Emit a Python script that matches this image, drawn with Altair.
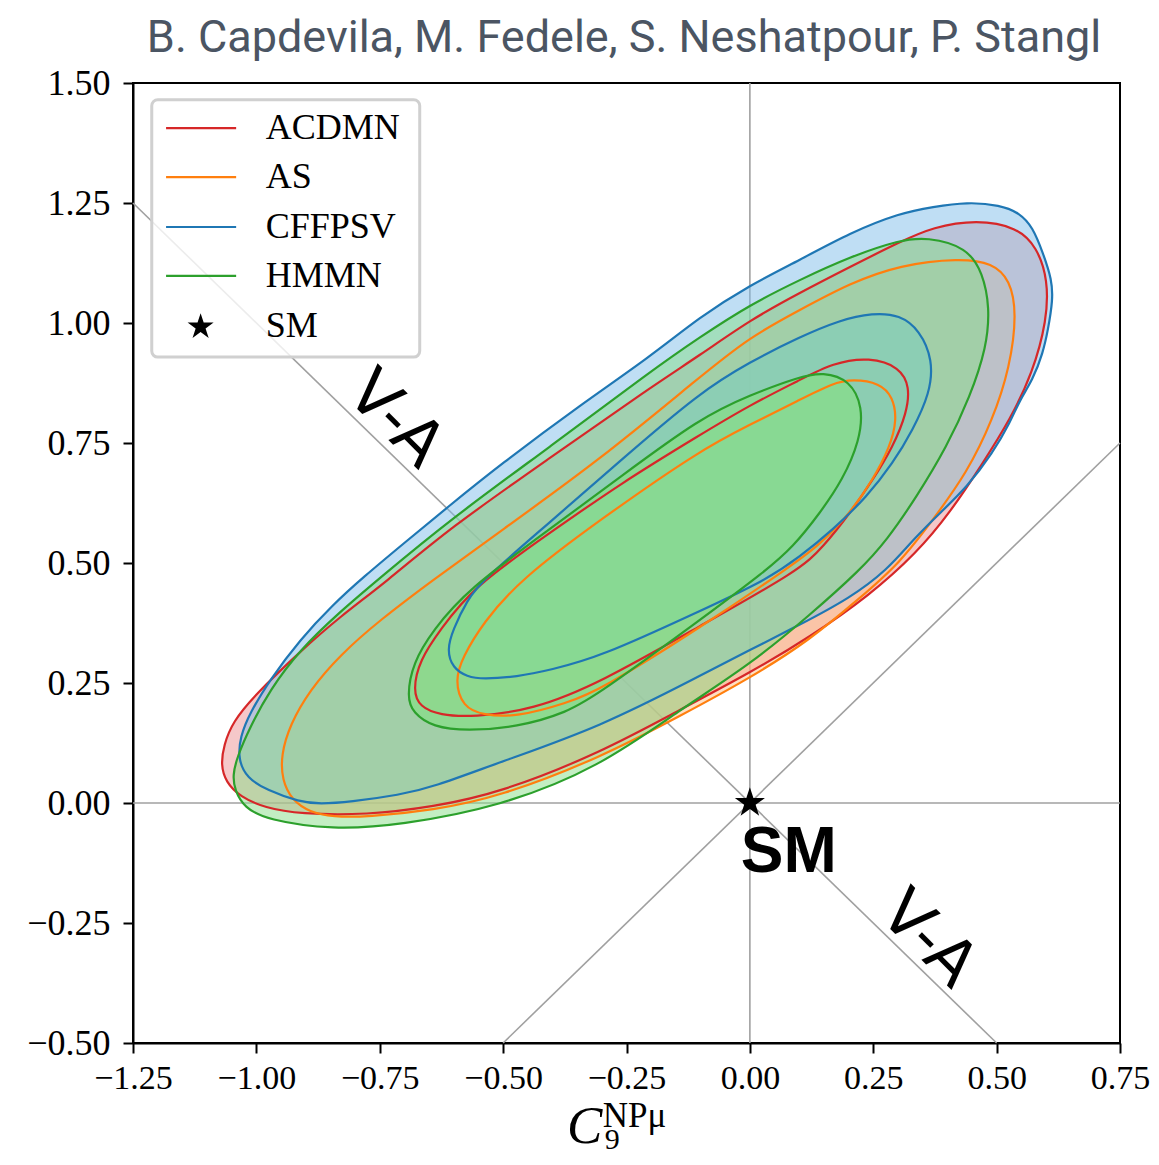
import altair as alt
import pandas as pd

TITLE = "B. Capdevila, M. Fedele, S. Neshatpour, P. Stangl"
MODELS = ["ACDMN", "AS", "CFFPSV", "HMMN"]
LINE_COLORS = ["#d62728", "#ff7f0e", "#1f77b4", "#2ca02c"]
FILL_COLORS = ["#eb9293", "#ffbf86", "#80bee9", "#87de87"]
X_TICKS = [-1.25, -1.0, -0.75, -0.5, -0.25, 0.0, 0.25, 0.5, 0.75]
Y_TICKS = [-0.5, -0.25, 0.0, 0.25, 0.5, 0.75, 1.0, 1.25, 1.5]

# contour points (C9, C10)
ACDMN_OUTER_X = [0.460, 0.541, 0.582, 0.604, 0.602, 0.573, 0.527, 0.472, 0.405, 0.338, 0.243, 0.122, 0.000, -0.142, -0.304, -0.507, -0.642, -0.776, -0.912, -0.983, -1.033, -1.062, -1.072, -1.066, -1.048, -1.003, -0.912, -0.831, -0.740, -0.608, -0.405, -0.203, -0.101, 0.000, 0.101, 0.203, 0.304, 0.371]
ACDMN_OUTER_Y = [1.215, 1.200, 1.158, 1.090, 1.006, 0.896, 0.798, 0.708, 0.604, 0.521, 0.433, 0.346, 0.271, 0.194, 0.104, 0.021, -0.008, -0.025, -0.023, -0.010, 0.013, 0.044, 0.079, 0.121, 0.169, 0.225, 0.315, 0.388, 0.458, 0.573, 0.719, 0.865, 0.933, 1.006, 1.063, 1.117, 1.169, 1.200]
ACDMN_INNER_X = [0.243, 0.304, 0.324, 0.318, 0.290, 0.249, 0.203, 0.148, 0.101, -0.101, -0.304, -0.440, -0.561, -0.628, -0.669, -0.683, -0.669, -0.628, -0.561, -0.405, -0.263, -0.101, 0.000, 0.101, 0.168]
ACDMN_INNER_Y = [0.929, 0.908, 0.867, 0.813, 0.742, 0.673, 0.604, 0.533, 0.485, 0.369, 0.250, 0.194, 0.179, 0.183, 0.200, 0.235, 0.298, 0.360, 0.450, 0.563, 0.665, 0.767, 0.829, 0.881, 0.917]

AS_OUTER_X = [0.425, 0.492, 0.527, 0.541, 0.527, 0.492, 0.440, 0.371, 0.304, 0.223, 0.122, 0.000, -0.142, -0.304, -0.507, -0.642, -0.776, -0.845, -0.892, -0.928, -0.948, -0.950, -0.932, -0.892, -0.831, -0.750, -0.642, -0.507, -0.304, -0.101, 0.000, 0.101, 0.203, 0.304]
AS_OUTER_Y = [1.135, 1.125, 1.090, 1.021, 0.908, 0.798, 0.688, 0.590, 0.500, 0.427, 0.340, 0.260, 0.181, 0.094, 0.013, -0.015, -0.029, -0.029, -0.019, 0.006, 0.048, 0.100, 0.163, 0.235, 0.308, 0.381, 0.465, 0.565, 0.715, 0.888, 0.971, 1.027, 1.083, 1.121]
AS_INNER_X = [0.209, 0.263, 0.290, 0.298, 0.284, 0.249, 0.203, 0.142, 0.081, -0.101, -0.304, -0.371, -0.472, -0.541, -0.582, -0.598, -0.582, -0.541, -0.466, -0.304, -0.101, 0.000, 0.101, 0.168]
AS_INNER_Y = [0.883, 0.875, 0.846, 0.798, 0.742, 0.673, 0.604, 0.538, 0.492, 0.365, 0.235, 0.208, 0.179, 0.183, 0.200, 0.256, 0.304, 0.375, 0.465, 0.590, 0.735, 0.788, 0.840, 0.875]

CFFPSV_OUTER_X = [0.440, 0.507, 0.547, 0.573, 0.594, 0.612, 0.614, 0.604, 0.594, 0.573, 0.547, 0.527, 0.492, 0.440, 0.385, 0.330, 0.278, 0.203, 0.101, 0.000, -0.101, -0.304, -0.507, -0.642, -0.709, -0.811, -0.871, -0.912, -0.979, -1.019, -1.037, -1.033, -1.013, -0.973, -0.912, -0.845, -0.784, -0.700, -0.614, -0.507, -0.344, -0.203, -0.101, 0.000, 0.101, 0.203, 0.304, 0.371]
CFFPSV_OUTER_Y = [1.252, 1.246, 1.229, 1.200, 1.146, 1.090, 1.048, 0.985, 0.938, 0.881, 0.840, 0.792, 0.729, 0.658, 0.604, 0.548, 0.485, 0.427, 0.371, 0.319, 0.265, 0.158, 0.085, 0.033, 0.017, 0.002, -0.002, 0.002, 0.027, 0.052, 0.090, 0.138, 0.188, 0.256, 0.340, 0.413, 0.470, 0.542, 0.615, 0.704, 0.829, 0.929, 1.013, 1.079, 1.131, 1.188, 1.229, 1.242]
CFFPSV_INNER_X = [0.249, 0.304, 0.344, 0.371, 0.365, 0.330, 0.290, 0.237, 0.168, 0.101, 0.034, -0.101, -0.304, -0.405, -0.472, -0.541, -0.573, -0.602, -0.614, -0.602, -0.573, -0.541, -0.405, -0.263, -0.101, 0.000, 0.101, 0.182]
CFFPSV_INNER_Y = [1.021, 1.017, 0.985, 0.923, 0.854, 0.777, 0.708, 0.638, 0.569, 0.513, 0.465, 0.400, 0.304, 0.277, 0.263, 0.258, 0.263, 0.281, 0.319, 0.360, 0.423, 0.465, 0.585, 0.713, 0.856, 0.919, 0.971, 1.006]

HMMN_OUTER_X = [0.359, 0.440, 0.472, 0.486, 0.480, 0.446, 0.399, 0.338, 0.278, 0.223, 0.122, 0.000, -0.142, -0.304, -0.507, -0.709, -0.845, -0.979, -1.024, -1.044, -1.048, -1.039, -1.013, -0.973, -0.912, -0.831, -0.754, -0.608, -0.405, -0.203, -0.101, 0.000, 0.101, 0.203, 0.304]
HMMN_OUTER_Y = [1.179, 1.158, 1.104, 1.033, 0.950, 0.846, 0.742, 0.638, 0.548, 0.485, 0.392, 0.288, 0.194, 0.075, -0.008, -0.046, -0.056, -0.035, -0.010, 0.027, 0.058, 0.096, 0.158, 0.235, 0.319, 0.398, 0.465, 0.590, 0.742, 0.898, 0.971, 1.038, 1.090, 1.138, 1.173]
HMMN_INNER_X = [0.148, 0.203, 0.229, 0.223, 0.188, 0.142, 0.087, 0.034, -0.101, -0.304, -0.371, -0.472, -0.573, -0.642, -0.683, -0.695, -0.683, -0.642, -0.573, -0.405, -0.263, -0.101, 0.000, 0.101]
HMMN_INNER_Y = [0.898, 0.881, 0.825, 0.756, 0.673, 0.604, 0.533, 0.485, 0.381, 0.229, 0.188, 0.158, 0.150, 0.158, 0.188, 0.221, 0.292, 0.360, 0.444, 0.571, 0.679, 0.802, 0.850, 0.888]

CONTOURS = {
    "ACDMN": ((ACDMN_OUTER_X, ACDMN_OUTER_Y), (ACDMN_INNER_X, ACDMN_INNER_Y)),
    "AS": ((AS_OUTER_X, AS_OUTER_Y), (AS_INNER_X, AS_INNER_Y)),
    "CFFPSV": ((CFFPSV_OUTER_X, CFFPSV_OUTER_Y), (CFFPSV_INNER_X, CFFPSV_INNER_Y)),
    "HMMN": ((HMMN_OUTER_X, HMMN_OUTER_Y), (HMMN_INNER_X, HMMN_INNER_Y)),
}

# reference lines
VA_X = [-1.25, 0.5]
VA_Y = [1.25, -0.5]
VPA_X = [-0.5, 0.75]
VPA_Y = [-0.5, 0.75]
SM_X = [0.0]
SM_Y = [0.0]

STAR = "M0,-1L0.2245,-0.309L0.951,-0.309L0.363,0.118L0.588,0.809L0,0.382L-0.588,0.809L-0.363,0.118L-0.951,-0.309L-0.2245,-0.309Z"

XS = alt.Scale(domain=[-1.25, 0.75], nice=False, zero=False)
YS = alt.Scale(domain=[-0.5, 1.5], nice=False, zero=False)
X_AXIS = alt.Axis(values=X_TICKS, format=".2f", title=None, grid=False, labelFlush=False, labelPadding=8,
                  labelFontSize=34)
Y_AXIS = alt.Axis(values=Y_TICKS, format=".2f", title=None, grid=False, labelFlush=False, labelPadding=13,
                  labelFontSize=36)


def ex(field="x"):
    return alt.X(f"{field}:Q", scale=XS, axis=X_AXIS)


def ey(field="y"):
    return alt.Y(f"{field}:Q", scale=YS, axis=Y_AXIS)


def poly(xs, ys):
    return pd.DataFrame({"x": xs, "y": ys, "i": list(range(len(xs)))})


def text_layer(x, y, t, color="black", **kw):
    return alt.Chart(pd.DataFrame({"x": [x], "y": [y], "t": [t]})).mark_text(color=color, **kw).encode(
        x=ex(), y=ey(), text="t:N"
    )


layers = []
GRAY = "#a0a0a0"
layers.append(alt.Chart(pd.DataFrame({"x": [0.0]})).mark_rule(color=GRAY, strokeWidth=1.6).encode(x=ex()))
layers.append(alt.Chart(pd.DataFrame({"y": [0.0]})).mark_rule(color=GRAY, strokeWidth=1.6).encode(y=ey()))
for lx, ly in [(VA_X, VA_Y), (VPA_X, VPA_Y)]:
    layers.append(alt.Chart(poly(lx, ly)).mark_line(color=GRAY, strokeWidth=1.6).encode(x=ex(), y=ey(), order="i:Q"))

# filled regions: outer (2 sigma) and inner (1 sigma)
for m, fc in zip(MODELS, FILL_COLORS):
    (ox, oy), (ix, iy) = CONTOURS[m]
    layers.append(
        alt.Chart(poly(ox, oy)).mark_line(
            interpolate="basis-closed", fill=fc, fillOpacity=0.5, strokeOpacity=0
        ).encode(x=ex(), y=ey(), order="i:Q")
    )
    layers.append(
        alt.Chart(poly(ix, iy)).mark_line(
            interpolate="basis-closed", fill=fc, fillOpacity=0.72, strokeOpacity=0
        ).encode(x=ex(), y=ey(), order="i:Q")
    )
# contour lines on top
for m, lc in zip(MODELS, LINE_COLORS):
    for xs, ys in CONTOURS[m]:
        layers.append(
            alt.Chart(poly(xs, ys)).mark_line(
                interpolate="basis-closed", color=lc, strokeWidth=2.2
            ).encode(x=ex(), y=ey(), order="i:Q")
        )

# SM point and labels
layers.append(
    alt.Chart(pd.DataFrame({"x": SM_X, "y": SM_Y})).mark_point(
        shape=STAR, size=1000, filled=True, color="black", opacity=1
    ).encode(x=ex(), y=ey())
)
layers.append(text_layer(0.079, -0.144, "SM", font="Liberation Sans", fontWeight="bold", fontSize=64,
                         align="center", baseline="alphabetic"))
layers.append(
    alt.Chart(pd.DataFrame({"x": [-0.719, 0.361], "y": [0.798, -0.285], "t": ["V-A", "V-A"]})).mark_text(
        font="DejaVu Sans", fontSize=64, angle=45, align="center", baseline="middle", color="black"
    ).encode(x=ex(), y=ey(), text="t:N")
)

# legend (inside the plot, top-left)
layers.append(
    alt.Chart(pd.DataFrame({"x": [-1.212], "x2": [-0.669], "y": [1.465], "y2": [0.929]})).mark_rect(
        fill="white", fillOpacity=0.8, stroke="#d0d0d0", strokeWidth=3, cornerRadius=6
    ).encode(x=ex(), x2="x2:Q", y=ey(), y2="y2:Q")
)
LEG_Y = [1.406, 1.304, 1.200, 1.098]
leg = pd.DataFrame({"x": [-1.183] * 4, "x2": [-1.041] * 4, "y": LEG_Y, "m": MODELS})
layers.append(
    alt.Chart(leg).mark_rule(strokeWidth=2.2).encode(
        x=ex(), x2="x2:Q", y=ey(),
        color=alt.Color("m:N", scale=alt.Scale(domain=MODELS, range=LINE_COLORS), legend=None),
    )
)
layers.append(
    alt.Chart(pd.DataFrame({"x": [-1.113], "y": [0.992]})).mark_point(
        shape=STAR, size=750, filled=True, color="black", opacity=1
    ).encode(x=ex(), y=ey())
)
leg_t = pd.DataFrame({"x": [-0.981] * 5, "y": LEG_Y + [0.994], "t": MODELS + ["SM"]})
layers.append(
    alt.Chart(leg_t).mark_text(font="Liberation Serif", fontSize=36, align="left", baseline="middle", color="black").encode(
        x=ex(), y=ey(), text="t:N"
    )
)

# x-axis title C_9^{NP mu}
layers.append(text_layer(-0.335, -0.708, "C", font="Liberation Serif", fontStyle="italic", fontSize=53,
                         align="center", baseline="alphabetic"))
layers.append(text_layer(-0.298, -0.675, "NPμ", font="Liberation Serif", fontSize=35,
                         align="left", baseline="alphabetic"))
layers.append(text_layer(-0.294, -0.721, "9", font="Liberation Serif", fontSize=30,
                         align="left", baseline="alphabetic"))

# title above the plot
layers.append(text_layer(-0.255, 1.5646, TITLE, color="#4b5563", font="Roboto", fontSize=45,
                         align="center", baseline="alphabetic"))

chart = alt.layer(*layers).properties(
    width=987,
    height=960,
    autosize=alt.AutoSizeParams(type="none"),
    padding={"left": 125, "top": 75, "right": 31, "bottom": 113},
).configure_view(stroke="black", strokeWidth=2).configure_axis(
    domainColor="black", domainWidth=2, tickColor="black", tickWidth=2, tickSize=10,
    labelFont="Liberation Serif", labelColor="black",
)

chart.save("out.html", embed_options={"renderer": "svg", "actions": False})
